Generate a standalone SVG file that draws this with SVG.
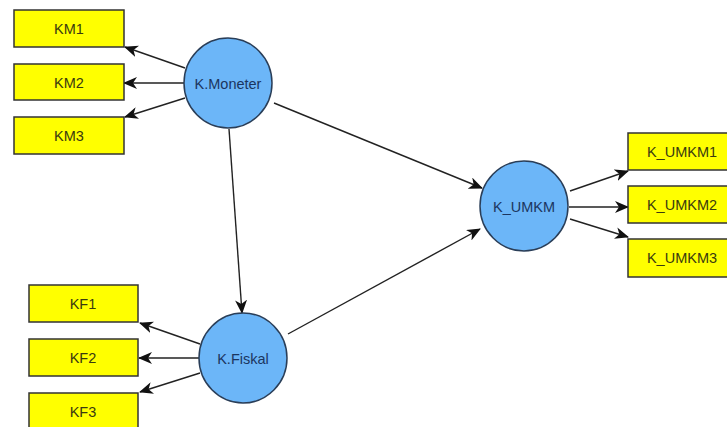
<svg xmlns="http://www.w3.org/2000/svg" width="727" height="427" viewBox="0 0 727 427">
<defs>
<marker id="arr" viewBox="0 0 14 12" refX="13" refY="6" markerWidth="14" markerHeight="12" markerUnits="userSpaceOnUse" orient="auto">
<path d="M0,0 L14,6 L0,12 L4,6 z" fill="#111"/>
</marker>
</defs>
<style>
.box{fill:#ffff00;stroke:#333;stroke-width:1.5}
.lv{fill:#6cb6f8;stroke:#2a3e58;stroke-width:1.5}
.bt{font-family:"Liberation Sans",Arial,sans-serif;font-size:14.5px;fill:#3a3a10;text-anchor:middle;dominant-baseline:central}
.ct{font-family:"Liberation Sans",Arial,sans-serif;font-size:14.5px;fill:#1b3560;text-anchor:middle;dominant-baseline:central}
.e{stroke:#222;stroke-width:1.4;fill:none;marker-end:url(#arr)}
</style>
<rect width="727" height="427" fill="#fff"/>
<g id="connectors">
<line class="e" x1="185" y1="68" x2="125" y2="47"/>
<line class="e" x1="184" y1="83" x2="124" y2="83"/>
<line class="e" x1="185" y1="98" x2="125" y2="117"/>
<line class="e" x1="200" y1="344" x2="140" y2="323"/>
<line class="e" x1="199" y1="358" x2="139" y2="358"/>
<line class="e" x1="200" y1="373" x2="140" y2="392"/>
<line class="e" x1="570" y1="191" x2="628" y2="171"/>
<line class="e" x1="569" y1="207" x2="628" y2="207"/>
<line class="e" x1="570" y1="219" x2="628" y2="237"/>
<line class="e" x1="274" y1="103" x2="482" y2="188"/>
<line class="e" x1="229" y1="129" x2="242" y2="313"/>
<line class="e" x1="288" y1="334" x2="480" y2="229"/>
</g>
<g id="KM1"><rect class="box" x="14" y="10" width="110" height="37"/><text class="bt" x="69" y="29">KM1</text></g>
<g id="KM2"><rect class="box" x="14" y="64" width="110" height="36"/><text class="bt" x="69" y="83">KM2</text></g>
<g id="KM3"><rect class="box" x="14" y="117" width="110" height="37"/><text class="bt" x="69" y="136">KM3</text></g>
<g id="KF1"><rect class="box" x="29" y="285" width="109" height="37"/><text class="bt" x="83" y="304">KF1</text></g>
<g id="KF2"><rect class="box" x="29" y="339" width="109" height="37"/><text class="bt" x="83" y="358">KF2</text></g>
<g id="KF3"><rect class="box" x="29" y="393" width="109" height="37"/><text class="bt" x="83" y="412">KF3</text></g>
<g id="K_UMKM1"><rect class="box" x="628" y="133" width="110" height="37"/><text class="bt" x="682" y="152">K_UMKM1</text></g>
<g id="K_UMKM2"><rect class="box" x="628" y="186" width="110" height="37"/><text class="bt" x="682" y="205">K_UMKM2</text></g>
<g id="K_UMKM3"><rect class="box" x="628" y="239" width="110" height="38"/><text class="bt" x="682" y="258">K_UMKM3</text></g>
<g id="K.Moneter"><ellipse class="lv" cx="228" cy="83" rx="44" ry="45"/><text class="ct" x="228" y="84">K.Moneter</text></g>
<g id="K.Fiskal"><ellipse class="lv" cx="243" cy="358" rx="44" ry="45"/><text class="ct" x="243" y="359">K.Fiskal</text></g>
<g id="K_UMKM"><ellipse class="lv" cx="524" cy="206" rx="44" ry="45"/><text class="ct" x="524" y="207">K_UMKM</text></g>
</svg>
